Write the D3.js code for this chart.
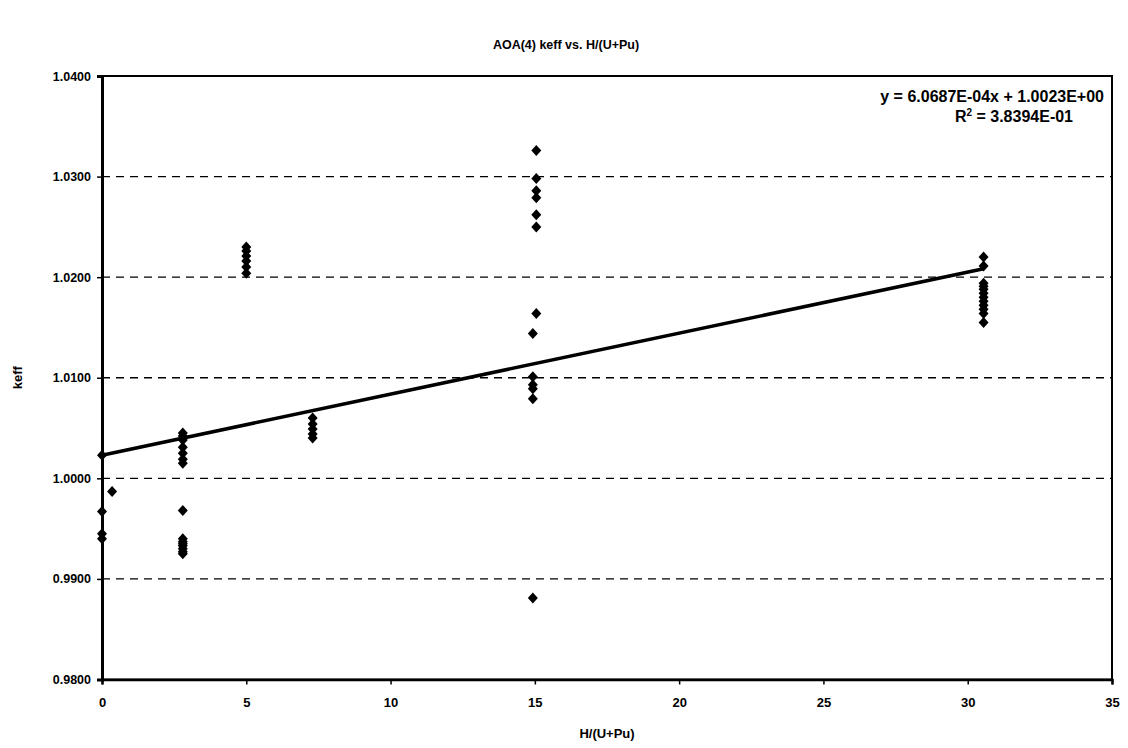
<!DOCTYPE html>
<html>
<head>
<meta charset="utf-8">
<script src="https://cdn.jsdelivr.net/npm/d3@7"></script>
<style>
  html, body { margin: 0; padding: 0; background: #fff; }
  svg { display: block; }
  text { font-family: "Liberation Sans", Arial, sans-serif; font-weight: bold; fill: #000; }
</style>
</head>
<body>
<svg id="chart" width="1128" height="748"></svg>
<script>
// ---- data ----
const xTicks = [0, 5, 10, 15, 20, 25, 30, 35];
const yTicks = [0.98, 0.99, 1.00, 1.01, 1.02, 1.03, 1.04];
const slope = 6.0687e-4;
const intercept = 1.0023;
const eqLine1 = "y = 6.0687E-04x + 1.0023E+00";
const r2Value = "3.8394E-01";
const titleText = "AOA(4) keff vs. H/(U+Pu)";
const xTitle = "H/(U+Pu)";
const yTitle = "keff";

const ptX = [
  0, 0, 0, 0,
  0.35,
  2.8, 2.8, 2.8, 2.8, 2.8, 2.8, 2.8,
  2.8,
  2.8, 2.8, 2.8, 2.8, 2.8, 2.8, 2.8,
  5.0, 5.0, 5.0, 5.0, 5.0, 5.0,
  7.3, 7.3, 7.3, 7.3, 7.3,
  15.05, 15.05, 15.05, 15.05, 15.05, 15.05, 15.05,
  14.93, 14.93, 14.93, 14.93, 14.93, 14.93,
  30.55, 30.55, 30.55, 30.55, 30.55, 30.55, 30.55, 30.55, 30.55, 30.55, 30.55, 30.55
];
const ptY = [
  1.0023, 0.9967, 0.9945, 0.9940,
  0.9987,
  1.0045, 1.0042, 1.0038, 1.0031, 1.0025, 1.0019, 1.0015,
  0.9968,
  0.9940, 0.9937, 0.9935, 0.9933, 0.9930, 0.9927, 0.9925,
  1.0230, 1.0226, 1.0221, 1.0216, 1.0210, 1.0204,
  1.0060, 1.0054, 1.0049, 1.0044, 1.0040,
  1.0326, 1.0298, 1.0286, 1.0279, 1.0262, 1.0250, 1.0164,
  1.0144, 1.0101, 1.0093, 1.0089, 1.0079, 0.9881,
  1.0220, 1.0211, 1.0194, 1.0191, 1.0188, 1.0184, 1.0180, 1.0176, 1.0172, 1.0168, 1.0164, 1.0155
];

(function () {
// ---- layout ----
const svg = d3.select("#chart");
const pLeft = 102, pRight = 1112, pTop = 76, pBottom = 679.5;
const fam = "'Liberation Sans', Arial, sans-serif";

const x = d3.scaleLinear().domain([0, 35]).range([pLeft, pRight]);
const y = d3.scaleLinear().domain([0.98, 1.04]).range([pBottom, pTop]);

// title
svg.append("text").attr("x", 566).attr("y", 49).attr("text-anchor", "middle")
  .style("font-size", "12.5px").text(titleText);

// gridlines (dashed)
svg.append("g").selectAll("line").data(yTicks.filter(v => v > 0.98 && v < 1.04)).join("line")
  .attr("x1", pLeft).attr("x2", pRight)
  .attr("y1", d => y(d)).attr("y2", d => y(d))
  .attr("stroke", "#000").attr("stroke-width", 1.4).attr("stroke-dasharray", "8,6");

// plot border
svg.append("rect").attr("x", pLeft).attr("y", pTop).attr("width", pRight - pLeft).attr("height", pBottom - pTop)
  .attr("fill", "none").attr("stroke", "#000").attr("stroke-width", 2);

// axes
const yAxis = d3.axisLeft(y).tickValues(yTicks).tickFormat(d3.format(".4f")).tickSize(5).tickPadding(6);
const gy = svg.append("g").attr("transform", `translate(${pLeft},0)`).call(yAxis);
gy.select(".domain").attr("stroke-width", 3);
gy.selectAll(".tick line").attr("stroke-width", 1.5);
gy.selectAll(".tick text").style("font-size", "12.5px").style("font-family", fam).style("font-weight", "bold");

const xAxis = d3.axisBottom(x).tickValues(xTicks).tickFormat(d3.format("d")).tickSize(5).tickPadding(13);
const gx = svg.append("g").attr("transform", `translate(0,${pBottom})`).call(xAxis);
gx.select(".domain").attr("stroke-width", 2.5);
gx.selectAll(".tick line").attr("stroke-width", 1.5);
gx.selectAll(".tick text").style("font-size", "13px").style("font-family", fam).style("font-weight", "bold");

// axis titles
svg.append("text").attr("x", (pLeft + pRight) / 2).attr("y", 738).attr("text-anchor", "middle")
  .style("font-size", "13px").text(xTitle);
svg.append("text").attr("transform", `translate(22,${(pTop + pBottom) / 2}) rotate(-90)`)
  .attr("text-anchor", "middle").style("font-size", "13px").text(yTitle);

// points
const pts = ptX.map((v, i) => ({ x: v, y: ptY[i] }));
const diamond = "M0,-5.5L5,0L0,5.5L-5,0Z";
svg.append("g").selectAll("path").data(pts).join("path")
  .attr("d", diamond)
  .attr("transform", d => `translate(${x(d.x)},${y(d.y)})`)
  .attr("fill", "#000");

// trendline
const xmin = d3.min(ptX), xmax = d3.max(ptX);
svg.append("line")
  .attr("x1", x(xmin)).attr("y1", y(intercept + slope * xmin))
  .attr("x2", x(xmax)).attr("y2", y(intercept + slope * xmax))
  .attr("stroke", "#000").attr("stroke-width", 3.5);

// equation
const eq = svg.append("g").style("font-size", "16px");
eq.append("text").attr("x", 1104).attr("y", 102).attr("text-anchor", "end").text(eqLine1);
const r2 = eq.append("text").attr("x", 1073).attr("y", 122).attr("text-anchor", "end");
r2.append("tspan").text("R");
r2.append("tspan").attr("dy", -6).style("font-size", "10px").text("2");
r2.append("tspan").attr("dy", 6).text(" = " + r2Value);
})();
</script>
</body>
</html>
